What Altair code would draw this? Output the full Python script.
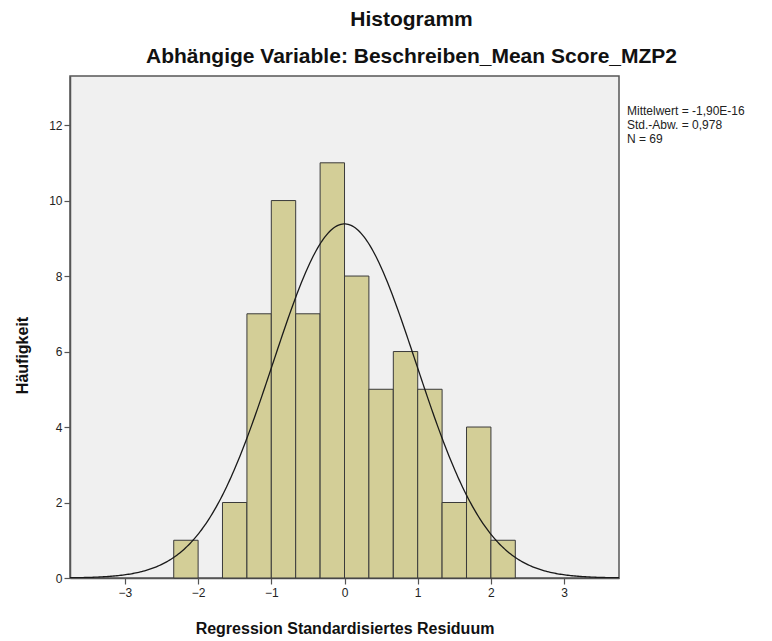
import altair as alt
import pandas as pd

# Histogram bins (left edges) and frequencies
bin_start = [-2.333, -2.0, -1.667, -1.333, -1.0, -0.667, -0.333, 0.0, 0.333, 0.667, 1.0, 1.333, 1.667, 2.0]
counts = [1, 0, 2, 7, 10, 7, 11, 8, 5, 6, 5, 2, 4, 1]
bin_width = 0.3333

# Statistics shown in the legend box
mean_val = -1.90e-16
std_val = 0.978
n_val = 69
stats_lines = ["Mittelwert = -1,90E-16", "Std.-Abw. = 0,978", "N = 69"]

x_ticks = [-3, -2, -1, 0, 1, 2, 3]
y_ticks = [0, 2, 4, 6, 8, 10, 12]

df = pd.DataFrame({"start": bin_start, "count": counts})
df = df[df["count"] > 0]

FONT = "Liberation Sans"
x_scale = alt.Scale(domain=[-3.75, 3.75], nice=False, zero=False)
y_scale = alt.Scale(domain=[0, 13.3], nice=False)

bars = alt.Chart(df).transform_calculate(
    end=f"datum.start + {bin_width}", base="0"
).mark_rect(color="#D3CE97", stroke="#3a3a3a", strokeWidth=1, opacity=1).encode(
    x=alt.X("start:Q", scale=x_scale,
            axis=alt.Axis(values=x_ticks, format="d", title="Regression Standardisiertes Residuum",
                          grid=False, tickSize=6, labelPadding=3, titlePadding=22)),
    x2="end:Q",
    y=alt.Y("count:Q", scale=y_scale,
            axis=alt.Axis(values=y_ticks, format="d", title="Häufigkeit", grid=False,
                          tickSize=6, labelPadding=2, titlePadding=18, titleY=279)),
    y2="base:Q",
)

curve = alt.Chart(alt.sequence(-3.75, 3.76, 0.02, as_="xv")).transform_calculate(
    yv=f"densityNormal(datum.xv, {mean_val}, {std_val}) * {n_val} * {bin_width}"
).mark_line(color="#1a1a1a", strokeWidth=1.3, clip=True).encode(
    x=alt.X("xv:Q", scale=x_scale),
    y=alt.Y("yv:Q", scale=y_scale),
)

stats = alt.Chart(pd.DataFrame({"t": [stats_lines]})).mark_text(
    align="left", baseline="top", fontSize=12, font=FONT, color="#222222",
    lineHeight=14, clip=False
).encode(
    x=alt.value(557), y=alt.value(30), text="t"
)

chart = alt.layer(bars, curve, stats).properties(
    width=549,
    height=502,
    title=alt.TitleParams(
        text="Histogramm",
        subtitle="Abhängige Variable: Beschreiben_Mean Score_MZP2",
        fontSize=21, subtitleFontSize=21, fontWeight="bold", subtitleFontWeight="bold",
        font=FONT, subtitleFont=FONT, color="#111111", subtitleColor="#111111",
        anchor="middle", dx=67, offset=9, subtitlePadding=16,
    ),
    autosize=alt.AutoSizeParams(type="none"),
    padding={"left": 70, "top": 76, "right": 153, "bottom": 63},
    background="white",
).configure_view(
    fill="#F0F0F0", stroke="#555555", strokeWidth=1.5
).configure_axis(
    labelFont=FONT, titleFont=FONT, labelFontSize=12, titleFontSize=16,
    titleFontWeight="bold", labelColor="#222222", titleColor="#111111",
    domainColor="#555555", domainWidth=1.5, tickColor="#555555", tickWidth=1.2,
)

chart.save("out.html", embed_options={"renderer": "svg", "actions": False})
